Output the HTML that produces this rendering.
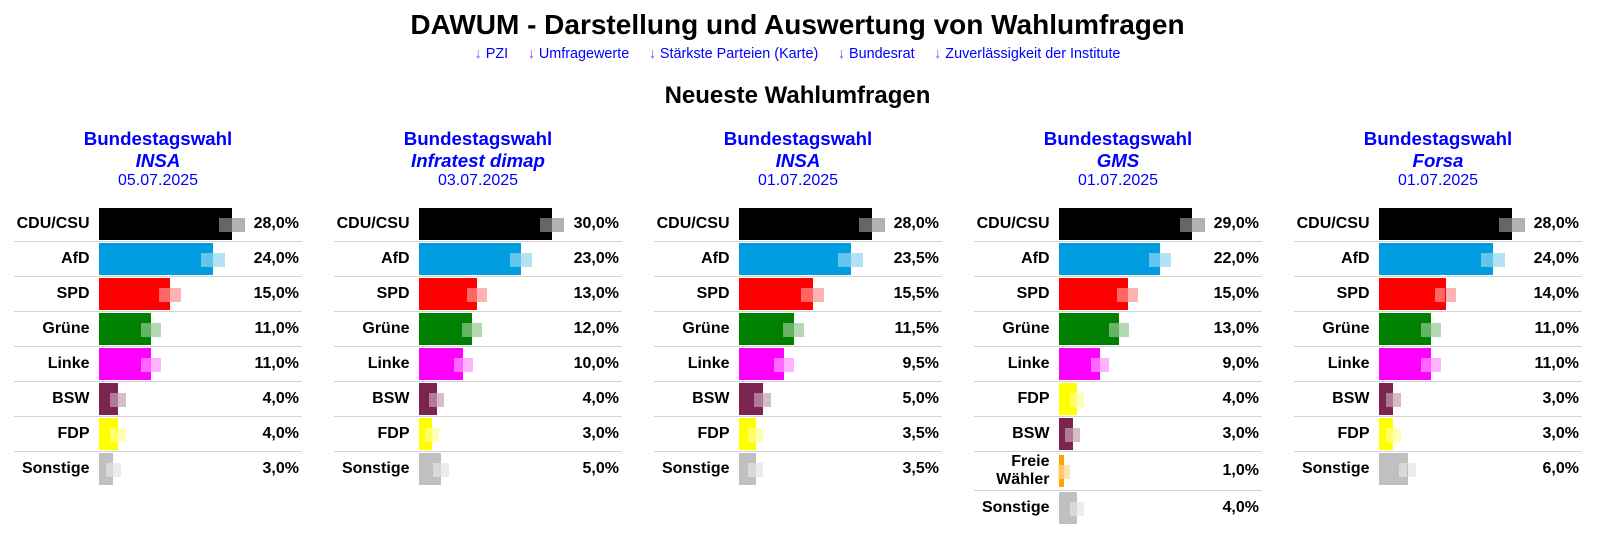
<!DOCTYPE html>
<html><head><meta charset="utf-8">
<style>
html,body{margin:0;padding:0;background:#fff;}
body{width:1608px;height:535px;position:relative;overflow:hidden;font-family:"Liberation Sans",Arial,sans-serif;color:#000;}
.t{position:absolute;left:0;width:1595px;text-align:center;white-space:nowrap;}
#title{top:8.6px;font-size:28px;line-height:32px;font-weight:bold;}
#nav{top:45px;font-size:14.4px;line-height:18px;display:flex;justify-content:center;gap:19.5px;color:#0000ff;}
#nav .a{color:#9b30ff;}
#sub{top:82px;font-size:24px;line-height:28px;font-weight:bold;}
.p{position:absolute;top:0;width:288px;height:535px;}
.h{position:absolute;left:0;width:288px;text-align:center;color:#0000ff;white-space:nowrap;}
.h1{top:127.5px;font-size:18.7px;line-height:22px;font-weight:bold;}
.h2{top:150.2px;font-size:18.7px;line-height:22px;font-weight:bold;font-style:italic;}
.h3{top:171.2px;font-size:16px;line-height:20px;}
.r{position:absolute;left:0;width:288px;height:34px;border-bottom:1px solid #d3d3d3;}
.r.e{border-bottom:none;}
.l{position:absolute;left:0;top:0;width:75.5px;text-align:right;font-weight:bold;font-size:16px;line-height:34px;white-space:nowrap;}
.b{position:absolute;left:85px;top:1px;height:32px;}
.mi{position:absolute;top:11px;height:14px;background:rgba(255,255,255,.4);}
.mo{position:absolute;top:11px;height:14px;opacity:.3;}
.v{position:absolute;right:3px;top:0;line-height:34px;font-weight:bold;font-size:16px;}
.cdu{background:#000;}
.afd{background:#009ee0;}
.spd{background:#ff0000;}
.gru{background:#008000;}
.lin{background:#ff00ff;}
.bsw{background:#7b2450;}
.fdp{background:#ffff00;}
.son{background:#c0c0c0;}
.fw{background:#ffa500;}
</style></head><body>

<div class="t" id="title">DAWUM - Darstellung und Auswertung von Wahlumfragen</div>
<div class="t" id="nav"><span><span class="a">↓</span> PZI</span><span><span class="a">↓</span> Umfragewerte</span><span><span class="a">↓</span> Stärkste Parteien (Karte)</span><span><span class="a">↓</span> Bundesrat</span><span><span class="a">↓</span> Zuverlässigkeit der Institute</span></div>
<div class="t" id="sub">Neueste Wahlumfragen</div>

<!-- Panel 1 -->
<div class="p" style="left:14px">
<div class="h h1">Bundestagswahl</div>
<div class="h h2">INSA</div>
<div class="h h3">05.07.2025</div>
<div class="r" style="top:207px"><div class="l">CDU/CSU</div><div class="b cdu" style="width:133px"></div><div class="mi" style="left:205.2px;width:12.8px"></div><div class="mo cdu" style="left:218px;width:12.8px"></div><div class="v">28,0%</div></div>
<div class="r" style="top:242px"><div class="l">AfD</div><div class="b afd" style="width:114px"></div><div class="mi" style="left:186.6px;width:12.4px"></div><div class="mo afd" style="left:199px;width:12.4px"></div><div class="v">24,0%</div></div>
<div class="r" style="top:277px"><div class="l">SPD</div><div class="b spd" style="width:71.25px"></div><div class="mi" style="left:145.2px;width:11.05px"></div><div class="mo spd" style="left:156.25px;width:11.05px"></div><div class="v">15,0%</div></div>
<div class="r" style="top:312px"><div class="l">Grüne</div><div class="b gru" style="width:52.25px"></div><div class="mi" style="left:127.05px;width:10.2px"></div><div class="mo gru" style="left:137.25px;width:10.2px"></div><div class="v">11,0%</div></div>
<div class="r" style="top:347px"><div class="l">Linke</div><div class="b lin" style="width:52.25px"></div><div class="mi" style="left:127.05px;width:10.2px"></div><div class="mo lin" style="left:137.25px;width:10.2px"></div><div class="v">11,0%</div></div>
<div class="r" style="top:382px"><div class="l">BSW</div><div class="b bsw" style="width:19px"></div><div class="mi" style="left:96px;width:8px"></div><div class="mo bsw" style="left:104px;width:8px"></div><div class="v">4,0%</div></div>
<div class="r" style="top:417px"><div class="l">FDP</div><div class="b fdp" style="width:19px"></div><div class="mi" style="left:96px;width:8px"></div><div class="mo fdp" style="left:104px;width:8px"></div><div class="v">4,0%</div></div>
<div class="r e" style="top:452px"><div class="l">Sonstige</div><div class="b son" style="width:14.25px"></div><div class="mi" style="left:91.75px;width:7.5px"></div><div class="mo son" style="left:99.25px;width:7.5px"></div><div class="v">3,0%</div></div>
</div>

<!-- Panel 2 -->
<div class="p" style="left:334px">
<div class="h h1">Bundestagswahl</div>
<div class="h h2">Infratest dimap</div>
<div class="h h3">03.07.2025</div>
<div class="r" style="top:207px"><div class="l">CDU/CSU</div><div class="b cdu" style="width:133px"></div><div class="mi" style="left:205.9px;width:12.1px"></div><div class="mo cdu" style="left:218px;width:12.1px"></div><div class="v">30,0%</div></div>
<div class="r" style="top:242px"><div class="l">AfD</div><div class="b afd" style="width:102px"></div><div class="mi" style="left:175.55px;width:11.45px"></div><div class="mo afd" style="left:187px;width:11.45px"></div><div class="v">23,0%</div></div>
<div class="r" style="top:277px"><div class="l">SPD</div><div class="b spd" style="width:57.6px"></div><div class="mi" style="left:132.65px;width:9.95px"></div><div class="mo spd" style="left:142.6px;width:9.95px"></div><div class="v">13,0%</div></div>
<div class="r" style="top:312px"><div class="l">Grüne</div><div class="b gru" style="width:53.2px"></div><div class="mi" style="left:128.45px;width:9.75px"></div><div class="mo gru" style="left:138.2px;width:9.75px"></div><div class="v">12,0%</div></div>
<div class="r" style="top:347px"><div class="l">Linke</div><div class="b lin" style="width:44.3px"></div><div class="mi" style="left:120px;width:9.3px"></div><div class="mo lin" style="left:129.3px;width:9.3px"></div><div class="v">10,0%</div></div>
<div class="r" style="top:382px"><div class="l">BSW</div><div class="b bsw" style="width:17.7px"></div><div class="mi" style="left:95.25px;width:7.45px"></div><div class="mo bsw" style="left:102.7px;width:7.45px"></div><div class="v">4,0%</div></div>
<div class="r" style="top:417px"><div class="l">FDP</div><div class="b fdp" style="width:13.3px"></div><div class="mi" style="left:91.3px;width:7px"></div><div class="mo fdp" style="left:98.3px;width:7px"></div><div class="v">3,0%</div></div>
<div class="r e" style="top:452px"><div class="l">Sonstige</div><div class="b son" style="width:22.2px"></div><div class="mi" style="left:99.35px;width:7.85px"></div><div class="mo son" style="left:107.2px;width:7.85px"></div><div class="v">5,0%</div></div>
</div>

<!-- Panel 3 -->
<div class="p" style="left:654px">
<div class="h h1">Bundestagswahl</div>
<div class="h h2">INSA</div>
<div class="h h3">01.07.2025</div>
<div class="r" style="top:207px"><div class="l">CDU/CSU</div><div class="b cdu" style="width:133px"></div><div class="mi" style="left:205.2px;width:12.8px"></div><div class="mo cdu" style="left:218px;width:12.8px"></div><div class="v">28,0%</div></div>
<div class="r" style="top:242px"><div class="l">AfD</div><div class="b afd" style="width:111.6px"></div><div class="mi" style="left:184.25px;width:12.35px"></div><div class="mo afd" style="left:196.6px;width:12.35px"></div><div class="v">23,5%</div></div>
<div class="r" style="top:277px"><div class="l">SPD</div><div class="b spd" style="width:73.6px"></div><div class="mi" style="left:147.45px;width:11.15px"></div><div class="mo spd" style="left:158.6px;width:11.15px"></div><div class="v">15,5%</div></div>
<div class="r" style="top:312px"><div class="l">Grüne</div><div class="b gru" style="width:54.6px"></div><div class="mi" style="left:129.25px;width:10.35px"></div><div class="mo gru" style="left:139.6px;width:10.35px"></div><div class="v">11,5%</div></div>
<div class="r" style="top:347px"><div class="l">Linke</div><div class="b lin" style="width:45.1px"></div><div class="mi" style="left:120.25px;width:9.85px"></div><div class="mo lin" style="left:130.1px;width:9.85px"></div><div class="v">9,5%</div></div>
<div class="r" style="top:382px"><div class="l">BSW</div><div class="b bsw" style="width:23.75px"></div><div class="mi" style="left:100.35px;width:8.4px"></div><div class="mo bsw" style="left:108.75px;width:8.4px"></div><div class="v">5,0%</div></div>
<div class="r" style="top:417px"><div class="l">FDP</div><div class="b fdp" style="width:16.6px"></div><div class="mi" style="left:93.85px;width:7.75px"></div><div class="mo fdp" style="left:101.6px;width:7.75px"></div><div class="v">3,5%</div></div>
<div class="r e" style="top:452px"><div class="l">Sonstige</div><div class="b son" style="width:16.6px"></div><div class="mi" style="left:93.85px;width:7.75px"></div><div class="mo son" style="left:101.6px;width:7.75px"></div><div class="v">3,5%</div></div>
</div>

<!-- Panel 4 -->
<div class="p" style="left:974px">
<div class="h h1">Bundestagswahl</div>
<div class="h h2">GMS</div>
<div class="h h3">01.07.2025</div>
<div class="r" style="top:207px"><div class="l">CDU/CSU</div><div class="b cdu" style="width:133px"></div><div class="mi" style="left:205.5px;width:12.5px"></div><div class="mo cdu" style="left:218px;width:12.5px"></div><div class="v">29,0%</div></div>
<div class="r" style="top:242px"><div class="l">AfD</div><div class="b afd" style="width:100.9px"></div><div class="mi" style="left:174.9px;width:11px"></div><div class="mo afd" style="left:185.9px;width:11px"></div><div class="v">22,0%</div></div>
<div class="r" style="top:277px"><div class="l">SPD</div><div class="b spd" style="width:68.8px"></div><div class="mi" style="left:143.3px;width:10.5px"></div><div class="mo spd" style="left:153.8px;width:10.5px"></div><div class="v">15,0%</div></div>
<div class="r" style="top:312px"><div class="l">Grüne</div><div class="b gru" style="width:59.6px"></div><div class="mi" style="left:134.6px;width:10px"></div><div class="mo gru" style="left:144.6px;width:10px"></div><div class="v">13,0%</div></div>
<div class="r" style="top:347px"><div class="l">Linke</div><div class="b lin" style="width:41.3px"></div><div class="mi" style="left:117.3px;width:9px"></div><div class="mo lin" style="left:126.3px;width:9px"></div><div class="v">9,0%</div></div>
<div class="r" style="top:382px"><div class="l">FDP</div><div class="b fdp" style="width:18.3px"></div><div class="mi" style="left:96.3px;width:7px"></div><div class="mo fdp" style="left:103.3px;width:7px"></div><div class="v">4,0%</div></div>
<div class="r" style="top:417px"><div class="l">BSW</div><div class="b bsw" style="width:13.8px"></div><div class="mi" style="left:91.3px;width:7.5px"></div><div class="mo bsw" style="left:98.8px;width:7.5px"></div><div class="v">3,0%</div></div>
<div class="r" style="top:452px;height:38px"><div class="l" style="line-height:18px;top:1px">Freie<br>Wähler</div><div class="b fw" style="width:4.6px;top:3px"></div><div class="mo fw" style="left:83.6px;width:12px;top:13px"></div><div class="mi" style="left:85px;width:4.6px;top:13px"></div><div class="v" style="line-height:38px">1,0%</div></div>
<div class="r e" style="top:491px"><div class="l">Sonstige</div><div class="b son" style="width:18.3px"></div><div class="mi" style="left:96.3px;width:7px"></div><div class="mo son" style="left:103.3px;width:7px"></div><div class="v">4,0%</div></div>
</div>

<!-- Panel 5 -->
<div class="p" style="left:1294px">
<div class="h h1">Bundestagswahl</div>
<div class="h h2">Forsa</div>
<div class="h h3">01.07.2025</div>
<div class="r" style="top:207px"><div class="l">CDU/CSU</div><div class="b cdu" style="width:133px"></div><div class="mi" style="left:205.2px;width:12.8px"></div><div class="mo cdu" style="left:218px;width:12.8px"></div><div class="v">28,0%</div></div>
<div class="r" style="top:242px"><div class="l">AfD</div><div class="b afd" style="width:114px"></div><div class="mi" style="left:186.6px;width:12.4px"></div><div class="mo afd" style="left:199px;width:12.4px"></div><div class="v">24,0%</div></div>
<div class="r" style="top:277px"><div class="l">SPD</div><div class="b spd" style="width:66.5px"></div><div class="mi" style="left:140.65px;width:10.85px"></div><div class="mo spd" style="left:151.5px;width:10.85px"></div><div class="v">14,0%</div></div>
<div class="r" style="top:312px"><div class="l">Grüne</div><div class="b gru" style="width:52.25px"></div><div class="mi" style="left:127.05px;width:10.2px"></div><div class="mo gru" style="left:137.25px;width:10.2px"></div><div class="v">11,0%</div></div>
<div class="r" style="top:347px"><div class="l">Linke</div><div class="b lin" style="width:52.25px"></div><div class="mi" style="left:127.05px;width:10.2px"></div><div class="mo lin" style="left:137.25px;width:10.2px"></div><div class="v">11,0%</div></div>
<div class="r" style="top:382px"><div class="l">BSW</div><div class="b bsw" style="width:14.25px"></div><div class="mi" style="left:91.75px;width:7.5px"></div><div class="mo bsw" style="left:99.25px;width:7.5px"></div><div class="v">3,0%</div></div>
<div class="r" style="top:417px"><div class="l">FDP</div><div class="b fdp" style="width:14.25px"></div><div class="mi" style="left:91.75px;width:7.5px"></div><div class="mo fdp" style="left:99.25px;width:7.5px"></div><div class="v">3,0%</div></div>
<div class="r e" style="top:452px"><div class="l">Sonstige</div><div class="b son" style="width:28.5px"></div><div class="mi" style="left:104.7px;width:8.8px"></div><div class="mo son" style="left:113.5px;width:8.8px"></div><div class="v">6,0%</div></div>
</div>

</body></html>
